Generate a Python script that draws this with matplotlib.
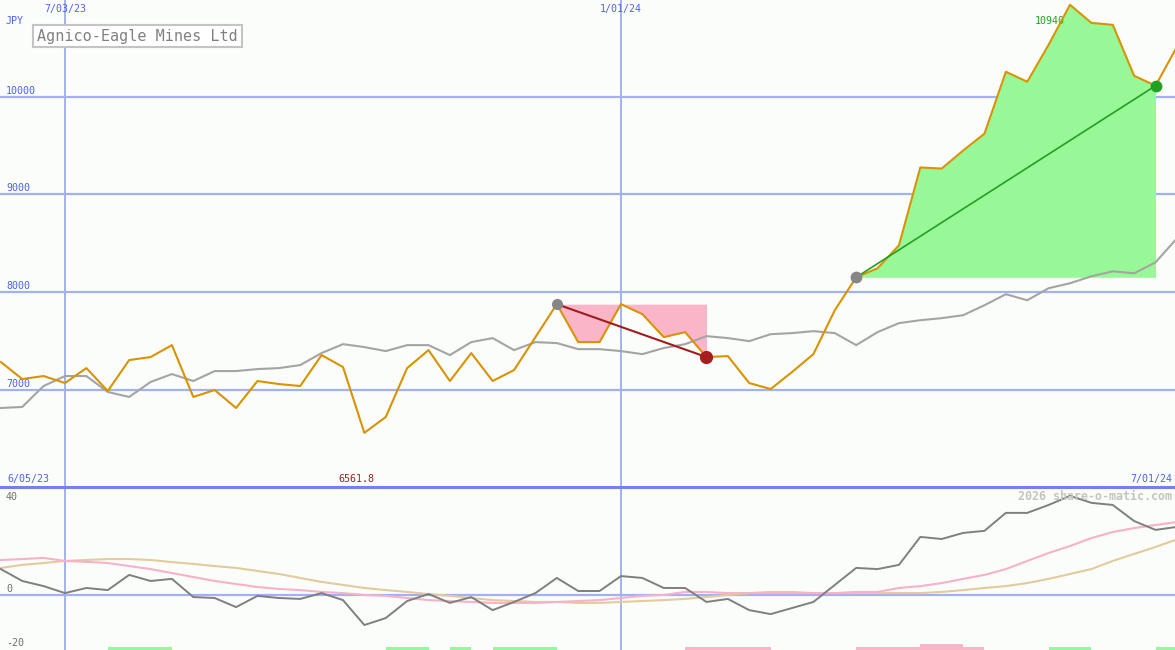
import matplotlib
matplotlib.use("Agg")
import matplotlib.pyplot as plt
import matplotlib.dates as mdates
import numpy as np
import pandas as pd

# ---------------- data ----------------
dates = pd.date_range("2023-06-12", periods=56, freq="7D")

price = [7286, 7112, 7143, 7071, 7224, 6990, 7306, 7337, 7459, 6929,
         7000, 6816, 7092, 7061, 7041, 7357, 7235, 6561.8, 6724, 7224,
         7408, 7092, 7378, 7092, 7204, 7541, 7878, 7490, 7490, 7878,
         7776, 7541, 7592, 7337, 7347, 7071, 7010, 7184, 7367, 7816,
         8153, 8245, 8480, 9276, 9265, 9449, 9622, 10255, 10153, 10531,
         10940, 10755, 10735, 10214, 10112, 10510]

avg_line = [6816, 6827, 7041, 7143, 7143, 6980, 6929, 7082, 7163, 7092,
            7194, 7194, 7214, 7224, 7255, 7378, 7469, 7439, 7398, 7459,
            7459, 7357, 7490, 7531, 7408, 7490, 7480, 7418, 7418, 7398,
            7367, 7429, 7469, 7551, 7531, 7500, 7571, 7582, 7602, 7582,
            7459, 7592, 7684, 7714, 7735, 7765, 7867, 7980, 7918, 8041,
            8092, 8163, 8214, 8194, 8306, 8551]

momentum = [10.9, 5.8, 3.6, 0.6, 2.8, 1.9, 8.4, 5.8, 6.7, -1.1,
            -1.5, -5.4, -0.6, -1.5, -1.9, 0.6, -2.4, -13.1, -10.1, -2.8,
            0.2, -3.6, -1.1, -6.7, -3.2, 0.6, 7.1, 1.5, 1.5, 7.9,
            7.1, 2.8, 2.8, -3.2, -1.9, -6.7, -8.4, -5.8, -3.2, 4.1,
            11.4, 10.9, 12.7, 24.7, 23.8, 26.4, 27.3, 35.0, 35.0, 38.4,
            42.3, 39.3, 38.4, 31.5, 27.7, 29.0]

signal_fast = [14.8, 15.2, 15.7, 14.4, 14.0, 13.5, 12.2, 10.9, 9.2, 7.5,
               5.8, 4.5, 3.2, 2.4, 1.9, 1.1, 0.6, -0.2, -0.6, -1.5,
               -2.4, -2.8, -3.2, -3.6, -3.6, -3.6, -3.2, -2.8, -2.4, -1.5,
               -0.6, -0.2, 1.1, 1.1, 0.6, 0.6, 0.6, 0.6, 0.6, 0.6,
               1.1, 1.1, 2.8, 3.6, 4.9, 6.7, 8.4, 10.9, 14.4, 17.8,
               20.8, 24.2, 26.8, 28.5, 29.8, 31.1]

signal_slow = [11.4, 12.7, 13.5, 14.4, 14.8, 15.2, 15.2, 14.8, 13.9, 13.1,
               12.2, 11.4, 10.1, 8.8, 7.1, 5.4, 4.1, 2.8, 1.9, 1.1,
               0.2, -0.6, -1.5, -2.4, -2.8, -3.2, -3.2, -3.6, -3.6, -3.2,
               -2.8, -2.4, -1.9, -1.1, -0.2, 0.6, 1.1, 1.1, 0.6, 0.6,
               0.6, 0.6, 0.6, 0.6, 1.1, 1.9, 2.8, 3.6, 4.9, 6.7,
               8.8, 10.9, 14.4, 17.4, 20.4, 23.6]

# signal bars: +1 green, -1 pink, -2 tall pink
signal_bars = [0, 0, 0, 0, 0, 1, 1, 1, 0, 0,
               0, 0, 0, 0, 0, 0, 0, 0, 1, 1,
               0, 1, 0, 1, 1, 1, 0, 0, 0, 0,
               0, 0, -1, -1, -1, -1, 0, 0, 0, 0,
               -1, -1, -1, -2, -2, -1, 0, 0, 0, 1,
               1, 0, 0, 0, 1, 1]

price_ticks = [7000, 8000, 9000, 10000]
mom_ticks = [40, 0, -20]
vlines = ["2023-07-03", "2024-01-01"]
fall_start, fall_end = 26, 33
rise_start, rise_end = 40, 54
title = "Agnico-Eagle Mines Ltd"
left_date_label = "6/05/23"
right_date_label = "7/01/24"
top_date_labels = ["7/03/23", "1/01/24"]

# ---------------- style ----------------
W, H = 1175, 650
BG = "#fbfdfa"
BLUE_TXT = "#4f5fef"
GRID = "#a3b1f2"
SEP = "#7282ea"
ORANGE = "#d99300"
GREY_LINE = "#a4a4a4"
MONO = "DejaVu Sans Mono"

fig = plt.figure(figsize=(W / 100, H / 100), dpi=100, facecolor=BG)

def px_axes(x0, y0, x1, y1):
    return fig.add_axes([x0 / W, 1 - y1 / H, (x1 - x0) / W, (y1 - y0) / H])

ax = px_axes(0, 0, W, 487)
axb = px_axes(0, 487, W, 650)

x = mdates.date2num(dates)
step = x[1] - x[0]
xl = (x[0] - 0.04 * step, x[0] + 54.91 * step)

for a in (ax, axb):
    a.set_facecolor(BG)
    a.set_xlim(*xl)
    a.set_xticks([])
    a.set_yticks([])
    for s in a.spines.values():
        s.set_visible(False)
    for d in vlines:
        a.axvline(mdates.date2num(pd.Timestamp(d)), color=GRID, lw=1.4, zorder=1)

# ---------- top panel ----------
ax.set_ylim(6008, 10989)
for t in price_ticks:
    ax.axhline(t, color=GRID, lw=1.6, zorder=1)
    ax.annotate(str(t), xy=(0, t), xycoords=("axes fraction", "data"),
                xytext=(6, 6), textcoords="offset pixels", ha="left", va="center",
                fontsize=7.2, color=BLUE_TXT, family=MONO)

p = np.array(price, dtype=float)
# pink loss area
xs = x[fall_start:fall_end + 1]
base = p[fall_start]
ax.fill_between(xs, base, p[fall_start:fall_end + 1],
                where=p[fall_start:fall_end + 1] <= base, interpolate=True,
                color="#fbb5c9", lw=0, zorder=2)
# green gain area
xs2 = x[rise_start:rise_end + 1]
base2 = p[rise_start]
ax.fill_between(xs2, base2, p[rise_start:rise_end + 1],
                where=p[rise_start:rise_end + 1] >= base2, interpolate=True,
                color="#98f898", lw=0, zorder=2)

ax.plot(x, avg_line, color=GREY_LINE, lw=1.5, zorder=3)
ax.plot(x, price, color=ORANGE, lw=1.5, zorder=4)

ax.plot([x[fall_start], x[fall_end]], [p[fall_start], p[fall_end]],
        color="#a01c1c", lw=1.5, zorder=5)
ax.plot([x[rise_start], x[rise_end]], [p[rise_start], p[rise_end]],
        color="#22a022", lw=1.2, zorder=5)
ax.plot(x[fall_start], p[fall_start], "o", color="#868686", ms=8, mew=0, zorder=6)
ax.plot(x[fall_end], p[fall_end], "o", color="#a61e1e", ms=9.5, mew=0, zorder=6)
ax.plot(x[rise_start], p[rise_start], "o", color="#868686", ms=8.5, mew=0, zorder=6)
ax.plot(x[rise_end], p[rise_end], "o", color="#22a022", ms=8.5, mew=0, zorder=6)

imax = int(np.argmax(p))
ax.annotate(f"{p[imax]:g}", xy=(x[imax], p[imax]), xytext=(-20, -16),
            textcoords="offset pixels", ha="center", va="center",
            fontsize=7.2, color="#22a022", family=MONO)

# ---------- bottom panel ----------
axb.set_ylim(-23.8, 46.1)
axb.axhline(0, color=GRID, lw=1.6, zorder=1)
label_offsets = {40: 4, 0: 6, -20: -2}
for t in mom_ticks:
    axb.annotate(str(t), xy=(0, t), xycoords=("axes fraction", "data"),
                 xytext=(6, label_offsets[t]), textcoords="offset pixels",
                 ha="left", va="center",
                 fontsize=7.2, color="#707070", family=MONO)

axb.plot(x, signal_slow, color="#e2cb9c", lw=1.5, zorder=3)
axb.plot(x, signal_fast, color="#f7b1c8", lw=1.5, zorder=3)
axb.plot(x, momentum, color="#7f7f7f", lw=1.4, zorder=4)

for i, s in enumerate(signal_bars):
    if s == 0:
        continue
    col = "#98f898" if s > 0 else "#fbb5c9"
    h = 2.6 if s == -2 else 1.2
    axb.bar(x[i], h, width=step, bottom=-23.8, align="edge", color=col, lw=0, zorder=2)

axb.axhline(46.1, color=SEP, lw=2.2, zorder=5, clip_on=False)

# ---------- texts ----------
def ftext(px, py, s, **kw):
    kw.setdefault("family", MONO)
    kw.setdefault("fontsize", 7.2)
    kw.setdefault("va", "center")
    fig.text(px / W, 1 - py / H, s, **kw)

ftext(6, 21, "JPY", color=BLUE_TXT)
ftext(65, 9, top_date_labels[0], color=BLUE_TXT, ha="center")
ftext(621, 9, top_date_labels[1], color=BLUE_TXT, ha="center")
ftext(7, 479, left_date_label, color=BLUE_TXT)
ftext(356, 479, f"{min(price):g}", color="#a02020", ha="center")
ftext(1172, 479, right_date_label, color=BLUE_TXT, ha="right")
ftext(1172, 496, "2026 share-o-matic.com", color="#c4c4c4", ha="right",
      fontsize=8.4, weight="bold")
ftext(37, 36, title, color="#808080", fontsize=10.9, ha="left",
      bbox=dict(boxstyle="square,pad=0.25", fc="white", ec="#c4c4c4", lw=1.5))

fig.savefig("out.png", dpi=100, facecolor=BG)
